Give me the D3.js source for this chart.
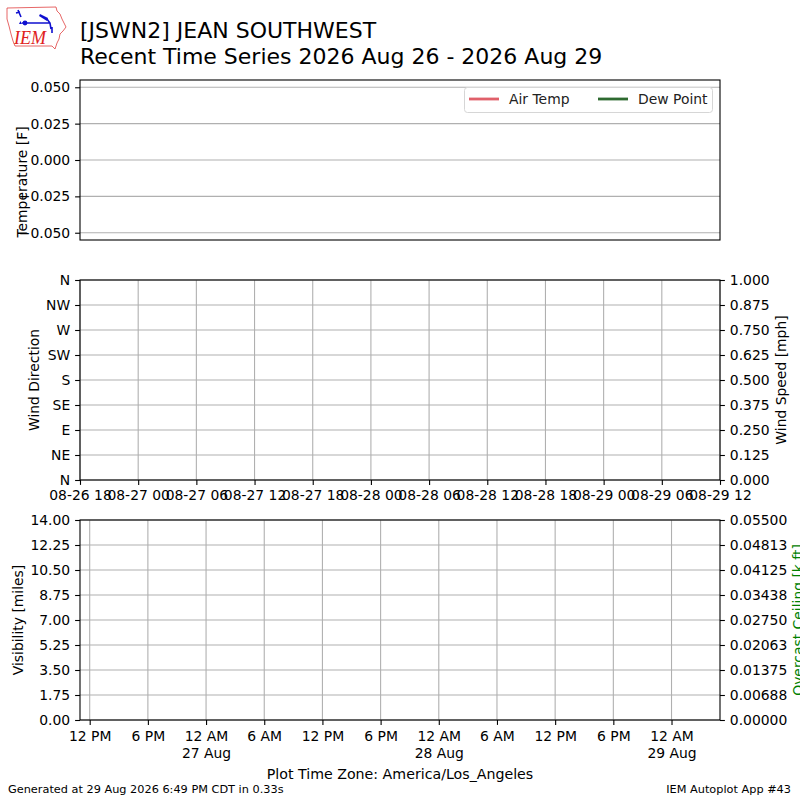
<!DOCTYPE html>
<html>
<head>
<meta charset="utf-8">
<script src="https://cdn.jsdelivr.net/npm/d3@7"></script>
<style>
  body { margin: 0; background: #fff; }
  svg { font-family: "DejaVu Sans", sans-serif; }
</style>
</head>
<body>
<div id="chart"></div>
<script>
// chart data (station has no observations for the period)
var stationId = "JSWN2"
var stationName = "JEAN SOUTHWEST"
var periodLabel = "Recent Time Series 2026 Aug 26 - 2026 Aug 29"
var timeStart = Date.UTC(2026, 7, 26, 18)
var timeEnd = Date.UTC(2026, 7, 29, 12)
var tzOffsetHours = -7 // America/Los_Angeles (PDT)

var seriesNames = ["Air Temp", "Dew Point"]
var seriesColors = ["#e0606a", "#2e6a30"]
var airTemp = []
var dewPoint = []
var windDir = []
var windSpeed = []
var visibility = []
var ceiling = []

var tempTicks = [-0.05, -0.025, 0, 0.025, 0.05]
var dirTicks = [0, 45, 90, 135, 180, 225, 270, 315, 360]
var dirLabels = ["N", "NE", "E", "SE", "S", "SW", "W", "NW", "N"]
var speedTicks = [0, 0.125, 0.25, 0.375, 0.5, 0.625, 0.75, 0.875, 1.0]
var visTicks = [0, 1.75, 3.5, 5.25, 7, 8.75, 10.5, 12.25, 14]
var ceilTicks = [0, 0.006875, 0.01375, 0.020625, 0.0275, 0.034375, 0.04125, 0.048125, 0.055]

var width = 800
var height = 800
var left = 80, right = 720
var grid = "#b0b0b0"

var svg = d3.select("#chart")
  .append("svg")
    .attr("width", width)
    .attr("height", height)

// ---- logo ----
var logo = svg.append("g")
logo.append("path")
    .attr("d", "M7,8 L56,7 L57,11 L60,14 L62,19 L64,23 L66,27 L63,31 L60,34 L59,39 L57,43 L55,49 L52,46 L15,46 L13,41 L11,34 L9,26 L7,19 Z")
    .attr("fill", "none").attr("stroke", "#e04040").attr("stroke-width", 0.8)
logo.append("path")
    .attr("d", "M18,10 L21,17 M16,13 L20,12 M22,23 L50,23 M47,19 L50,23 L51,29 M52,27 L52,33")
    .attr("fill", "none").attr("stroke", "#1010d0").attr("stroke-width", 1.6)
logo.append("circle").attr("cx", 25).attr("cy", 23).attr("r", 2.4).attr("fill", "#1010d0")
logo.append("path").attr("d", "M19,24 L22,24 L20.5,21 Z").attr("fill", "#1010d0")
logo.append("path").attr("d", "M40,14 L48,18 L47,21 L39,16 Z").attr("fill", "#1010d0")
logo.append("text")
    .attr("x", 14).attr("y", 44)
    .attr("font-family", "Liberation Serif, serif")
    .attr("font-style", "italic")
    .attr("font-size", 18)
    .attr("fill", "#e02020")
    .text("IEM")

// ---- titles ----
svg.append("text").attr("x", 80).attr("y", 38).attr("font-size", 22)
    .text("[" + stationId + "] " + stationName)
svg.append("text").attr("x", 80).attr("y", 64).attr("font-size", 22)
    .text(periodLabel)

// ---- scales ----
var x = d3.scaleUtc().domain([timeStart, timeEnd]).range([left, right])
var xLocal = d3.scaleUtc()
    .domain([timeStart + tzOffsetHours * 3600e3, timeEnd + tzOffsetHours * 3600e3])
    .range([left, right])

var yTemp = d3.scaleLinear().domain([-0.055, 0.055]).range([240, 80])
var yDir = d3.scaleLinear().domain([0, 360]).range([480, 280])
var ySpeed = d3.scaleLinear().domain([0, 1]).range([480, 280])
var yVis = d3.scaleLinear().domain([0, 14]).range([720, 520])
var yCeil = d3.scaleLinear().domain([0, 0.055]).range([720, 520])

function styleAxis(g) {
  g.selectAll("text").attr("font-size", 13.9).attr("fill", "#000").attr("font-family", "DejaVu Sans")
  g.selectAll("line").attr("stroke", "#000").attr("stroke-width", 1.1)
  g.select(".domain").remove()
}

function hGrid(scale, ticks) {
  svg.append("g").selectAll("line").data(ticks).join("line")
      .attr("x1", left).attr("x2", right)
      .attr("y1", d => scale(d)).attr("y2", d => scale(d))
      .attr("stroke", grid).attr("stroke-width", 1.1)
}

function vGrid(scale, ticks, y0, y1) {
  svg.append("g").selectAll("line").data(ticks).join("line")
      .attr("x1", d => scale(d)).attr("x2", d => scale(d))
      .attr("y1", y0).attr("y2", y1)
      .attr("stroke", grid).attr("stroke-width", 1.1)
}

function frame(y0, y1) {
  svg.append("rect").attr("x", left).attr("y", y0)
      .attr("width", right - left).attr("height", y1 - y0)
      .attr("fill", "none").attr("stroke", "#000").attr("stroke-width", 1.1)
}

// ---- panel 1: temperature ----
hGrid(yTemp, tempTicks)
var line = d3.line().x(d => x(d[0])).y(d => yTemp(d[1]))
svg.append("path").datum(airTemp).attr("d", line).attr("fill", "none").attr("stroke", seriesColors[0])
svg.append("path").datum(dewPoint).attr("d", line).attr("fill", "none").attr("stroke", seriesColors[1])
frame(80, 240)
svg.append("g").attr("transform", "translate(80,0)")
    .call(d3.axisLeft(yTemp).tickValues(tempTicks).tickFormat(d3.format(".3f")).tickSize(4.9).tickPadding(4.9))
    .call(styleAxis)
svg.append("text")
    .attr("transform", "translate(27,182) rotate(-90)")
    .attr("text-anchor", "middle").attr("font-size", 13.9)
    .text("Temperature [F]")

// legend
var legend = svg.append("g")
legend.append("rect").attr("x", 464.5).attr("y", 87.5).attr("width", 248).attr("height", 25)
    .attr("rx", 3).attr("fill", "#fff").attr("fill-opacity", 0.8)
    .attr("stroke", "#d6d6d6").attr("stroke-width", 1)
var legendX = [469, 598]
legend.selectAll("line").data(seriesNames).join("line")
    .attr("x1", (d, i) => legendX[i]).attr("x2", (d, i) => legendX[i] + 30)
    .attr("y1", 99).attr("y2", 99)
    .attr("stroke", (d, i) => seriesColors[i]).attr("stroke-width", 2.8)
legend.selectAll("text").data(seriesNames).join("text")
    .attr("x", (d, i) => legendX[i] + 40).attr("y", 104)
    .attr("font-size", 13.9).attr("fill", "#222")
    .text(d => d)

// ---- panel 2: wind ----
var midTicks = x.ticks(d3.utcHour.every(6))
hGrid(yDir, dirTicks)
vGrid(x, midTicks, 280, 480)
svg.append("g").selectAll("circle").data(windDir).join("circle")
    .attr("cx", d => x(d[0])).attr("cy", d => yDir(d[1])).attr("r", 2)
frame(280, 480)
svg.append("g").attr("transform", "translate(80,0)")
    .call(d3.axisLeft(yDir).tickValues(dirTicks).tickFormat((d, i) => dirLabels[i]).tickSize(4.9).tickPadding(4.9))
    .call(styleAxis)
svg.append("g").attr("transform", "translate(720,0)")
    .call(d3.axisRight(ySpeed).tickValues(speedTicks).tickFormat(d3.format(".3f")).tickSize(4.9).tickPadding(4.9))
    .call(styleAxis)
svg.append("g").attr("transform", "translate(0,480)")
    .call(d3.axisBottom(x).tickValues(midTicks).tickFormat(d3.utcFormat("%m-%d %H")).tickSize(4.9).tickPadding(4.9))
    .call(styleAxis)
svg.append("text")
    .attr("transform", "translate(39,380) rotate(-90)")
    .attr("text-anchor", "middle").attr("font-size", 13.9)
    .text("Wind Direction")
svg.append("text")
    .attr("transform", "translate(786,380) rotate(-90)")
    .attr("text-anchor", "middle").attr("font-size", 13.9)
    .text("Wind Speed [mph]")

// ---- panel 3: visibility / ceiling ----
var botTicks = xLocal.ticks(d3.utcHour.every(6))
hGrid(yVis, visTicks)
vGrid(xLocal, botTicks, 520, 720)
frame(520, 720)
svg.append("g").attr("transform", "translate(80,0)")
    .call(d3.axisLeft(yVis).tickValues(visTicks).tickFormat(d3.format(".2f")).tickSize(4.9).tickPadding(4.9))
    .call(styleAxis)
svg.append("g").attr("transform", "translate(720,0)")
    .call(d3.axisRight(yCeil).tickValues(ceilTicks).tickFormat(d3.format(".5f")).tickSize(4.9).tickPadding(4.9))
    .call(styleAxis)
var hourFmt = d3.utcFormat("%-I %p")
var dayFmt = d3.utcFormat("%-d %b")
var botAxis = svg.append("g").attr("transform", "translate(0,720)")
    .call(d3.axisBottom(xLocal).tickValues(botTicks).tickFormat("").tickSize(4.9))
    .call(styleAxis)
botAxis.selectAll(".tick").each(function(d) {
  var t = d3.select(this).select("text").text(null).attr("y", 21).attr("dy", null)
  t.append("tspan").attr("x", 0).text(hourFmt(d))
  if (d.getUTCHours() === 0) t.append("tspan").attr("x", 0).attr("dy", 16.5).text(dayFmt(d))
})
svg.append("text")
    .attr("transform", "translate(23,620) rotate(-90)")
    .attr("text-anchor", "middle").attr("font-size", 13.9)
    .text("Visibility [miles]")
// the right-hand label runs past the figure edge, as in the original
svg.append("text")
    .attr("transform", "translate(803,620) rotate(-90)")
    .attr("text-anchor", "middle").attr("font-size", 13.9).attr("fill", "green")
    .text("Overcast Ceiling [k ft]")

svg.append("text").attr("x", 400).attr("y", 779)
    .attr("text-anchor", "middle").attr("font-size", 14.2)
    .text("Plot Time Zone: America/Los_Angeles")

// ---- footer ----
svg.append("text").attr("x", 8).attr("y", 793).attr("font-size", 11.3)
    .text("Generated at 29 Aug 2026 6:49 PM CDT in 0.33s")
svg.append("text").attr("x", 791).attr("y", 793).attr("text-anchor", "end").attr("font-size", 11.3)
    .text("IEM Autoplot App #43")
</script>
</body>
</html>
